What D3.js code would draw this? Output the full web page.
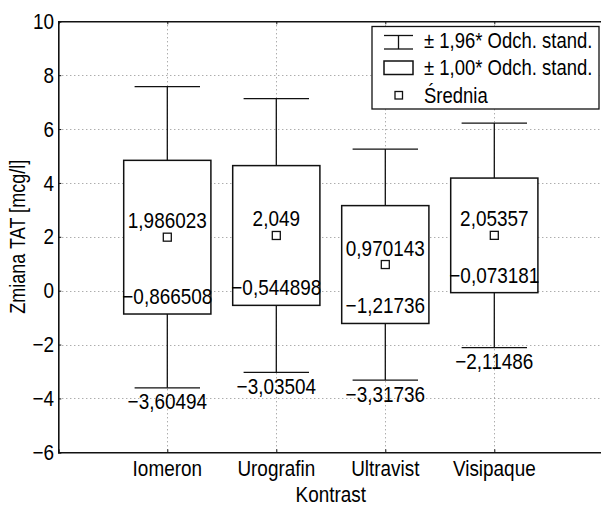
<!DOCTYPE html>
<html><head><meta charset="utf-8">
<script src="https://cdn.jsdelivr.net/npm/d3@7"></script>
<style>
html,body{margin:0;padding:0;background:#fff;}
svg text{font-family:"Liberation Sans",Arial,sans-serif;fill:#000;}
</style></head>
<body><svg id="c" width="601" height="506"></svg>
<script>
const categories = ["Iomeron","Urografin","Ultravist","Visipaque"];
const means      = [1.986023, 2.049, 0.970143, 2.05357];
const boxLow     = [-0.866508, -0.544898, -1.21736, -0.073181];
const boxHigh    = [4.838554, 4.642898, 3.157646, 4.180321];
const whiskerLow = [-3.60494, -3.03504, -3.31736, -2.11486];
const whiskerHigh= [7.577064, 7.133060, 5.257649, 6.222042];
const yTicks     = [10, 8, 6, 4, 2, 0, -2, -4, -6];
const legendLabels = ["± 1,96* Odch. stand.", "± 1,00* Odch. stand.", "Średnia"];
const yTitle = "Zmiana TAT [mcg/l]";
const xTitle = "Kontrast";

const svg = d3.select("#c");
const x = d3.scaleLinear().domain([0,5]).range([58.3,603.3]);
const y = d3.scaleLinear().domain([-6,10]).range([452.3,21.3]);
const ink = "#111";
const fmt = v => String(v).replace(".", ",").replace("-", "\u2212");
const FS = 21.5, SX = 0.88;

function txt(parent, tx, ty, s, anchor, opts = {}) {
  return parent.append("text")
    .attr("transform", `translate(${tx},${ty})${opts.rot ? " rotate(-90)" : ""} scale(${opts.sx || SX},1)`)
    .attr("text-anchor", anchor)
    .attr("font-size", opts.fs || FS)
    .text(s);
}

// grid
const grid = svg.append("g").attr("stroke","#8a8a8a").attr("stroke-width",1).attr("stroke-dasharray","1,3");
yTicks.filter(t => t > -6 && t < 10).forEach(t => {
  grid.append("line").attr("x1",x(0)).attr("x2",601).attr("y1",Math.round(y(t))+0.5).attr("y2",Math.round(y(t))+0.5);
});
categories.forEach((c,i) => {
  grid.append("line").attr("x1",Math.round(x(i+1))+0.5).attr("x2",Math.round(x(i+1))+0.5).attr("y1",y(10)).attr("y2",y(-6));
});

// axes (lines and ticks)
const gL = svg.append("g").attr("transform",`translate(${x(0)},0)`)
  .call(d3.axisLeft(y).tickValues(yTicks).tickSize(-3).tickFormat(""));
const gB = svg.append("g").attr("transform",`translate(0,${y(-6)})`)
  .call(d3.axisBottom(x).tickValues([1,2,3,4]).tickSize(-3).tickFormat(""));
const gT = svg.append("g").attr("transform",`translate(0,${y(10)})`)
  .call(d3.axisTop(x).tickValues([1,2,3,4]).tickSize(-3).tickFormat(""));
[gL,gB,gT].forEach(g => {
  g.select(".domain").attr("stroke",ink).attr("stroke-width",1.6);
  g.selectAll(".tick line").attr("stroke",ink).attr("stroke-width",1);
});
// tick labels
yTicks.forEach(t => txt(svg, 54, y(t) + 7.6, fmt(t), "end"));
categories.forEach((c,i) => txt(svg, x(i+1), y(-6) + 23.7, c, "middle"));

// boxes
const bw = 0.8, cw = 0.6;
const g = svg.append("g").attr("stroke",ink).attr("fill","none");
categories.forEach((c,i) => {
  const cx = x(i+1);
  const half = (x(bw/2) - x(0));
  const chalf = (x(cw/2) - x(0));
  g.append("line").attr("x1",cx).attr("x2",cx).attr("y1",y(whiskerHigh[i])).attr("y2",y(boxHigh[i])).attr("stroke-width",1.3);
  g.append("line").attr("x1",cx).attr("x2",cx).attr("y1",y(boxLow[i])).attr("y2",y(whiskerLow[i])).attr("stroke-width",1.3);
  g.append("line").attr("x1",cx-chalf).attr("x2",cx+chalf).attr("y1",y(whiskerHigh[i])).attr("y2",y(whiskerHigh[i])).attr("stroke-width",1.3);
  g.append("line").attr("x1",cx-chalf).attr("x2",cx+chalf).attr("y1",y(whiskerLow[i])).attr("y2",y(whiskerLow[i])).attr("stroke-width",1.3);
  g.append("rect").attr("x",cx-half).attr("y",y(boxHigh[i])).attr("width",2*half)
    .attr("height",y(boxLow[i])-y(boxHigh[i])).attr("fill","#fff").attr("stroke-width",1.5);
  g.append("rect").attr("x",cx-4).attr("y",y(means[i])-4).attr("width",8).attr("height",8)
    .attr("fill","#fff").attr("stroke-width",1.3);
  txt(svg, cx, y(means[i]) - 9, fmt(means[i]), "middle");
  txt(svg, cx, y(boxLow[i]) - 10, fmt(boxLow[i]), "middle");
  txt(svg, cx, y(whiskerLow[i]) + 21.5, fmt(whiskerLow[i]), "middle");
});

// titles
txt(svg, 25, (y(10)+y(-6))/2, yTitle, "middle", {rot: true, sx: 0.84});
txt(svg, (x(0)+x(5))/2, 502, xTitle, "middle");

// legend
const lg = svg.append("g");
lg.append("rect").attr("x",372).attr("y",26.5).attr("width",227).attr("height",82.5).attr("fill","#fff").attr("stroke",ink).attr("stroke-width",1.3);
const ls = lg.append("g").attr("stroke",ink).attr("fill","none").attr("stroke-width",1.3);
ls.append("line").attr("x1",384).attr("x2",413).attr("y1",35.5).attr("y2",35.5);
ls.append("line").attr("x1",384).attr("x2",413).attr("y1",49).attr("y2",49);
ls.append("line").attr("x1",398.5).attr("x2",398.5).attr("y1",35.5).attr("y2",49);
ls.append("rect").attr("x",384).attr("y",61).attr("width",29).attr("height",13.5).attr("stroke-width",1.5);
ls.append("rect").attr("x",395).attr("y",91.5).attr("width",7.5).attr("height",7.5);
const ly = [47.5, 75, 102.5];
legendLabels.forEach((t,i) => txt(lg, 424, ly[i], t, "start", {sx: 0.86}));
</script></body></html>
